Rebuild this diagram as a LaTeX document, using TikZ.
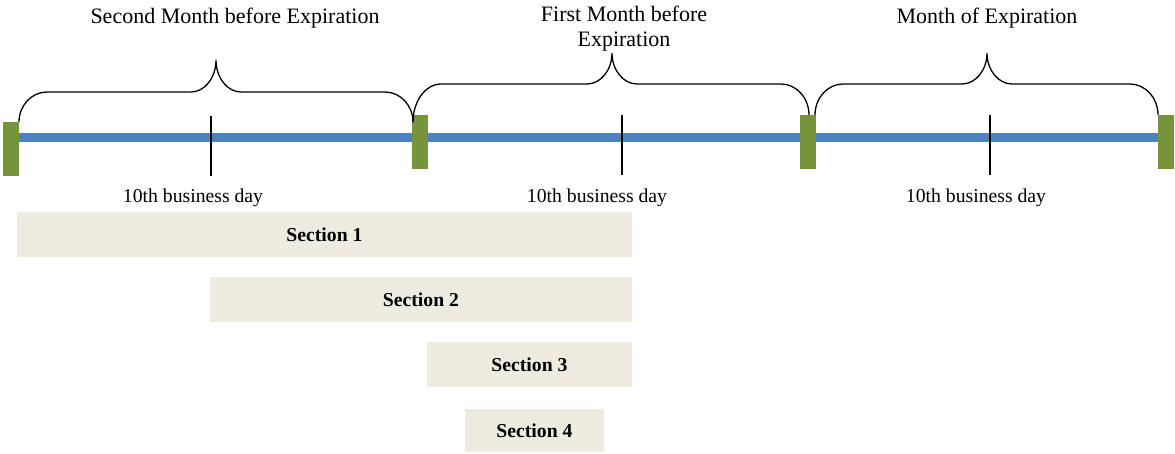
\documentclass[tikz,border=0pt]{standalone}
\usepackage{fontspec}
\setmainfont{Liberation Serif}
\definecolor{tlblue}{HTML}{4F81BD}
\definecolor{tlgreen}{HTML}{77933C}
\definecolor{secbeige}{HTML}{EEECE1}
\newcommand\mybrace[7]{%
 \draw[bracestyle] (#1,#2) .. controls (#1,{#2-0.55*(#2-#6)}) and ({#1+28-0.55*28},#6) .. ({#1+28},#6)
 -- ({#5-25},#6) .. controls ({#5-25+0.55*25},#6) and (#5,{#7+0.55*(#6-#7)}) .. (#5,#7)
 .. controls (#5,{#7+0.55*(#6-#7)}) and ({#5+25-0.55*25},#6) .. ({#5+25},#6)
 -- ({#3-28},#6) .. controls ({#3-28+0.55*28},#6) and (#3,{#4-0.55*(#4-#6)}) .. (#3,#4);}
\tikzset{
 bracestyle/.style={draw=black, line width=1.3pt},
 greenbar/.style={fill=tlgreen, draw=none, inner sep=0pt, minimum width=16pt},
 tickmark/.style={draw=black, line width=2pt},
 toplabel/.style={font=\fontsize{22}{25}\selectfont, inner sep=0pt, align=center},
 daylabel/.style={font=\fontsize{19.7}{22}\selectfont, inner sep=0pt, anchor=base},
 secbox/.style={fill=secbeige, draw=none, inner sep=0pt, font=\fontsize{19.7}{22}\selectfont\bfseries},
}
\begin{document}
\begin{tikzpicture}[x=1pt,y=-1pt]
\useasboundingbox (0,0) rectangle (1175,453);
% timeline
\coordinate (lstart) at (11,137.5);
\coordinate (lend) at (1166,137.5);
\draw[tlblue, line width=8.5pt] (lstart) -- (lend);
% green bars
\node[greenbar, minimum height=54pt] (g1) at (11,149) {};
\node[greenbar, minimum height=54pt] (g2) at (420,142) {};
\node[greenbar, minimum height=54pt] (g3) at (807.5,142) {};
\node[greenbar, minimum height=54pt] (g4) at (1166,142) {};
% ticks
\coordinate (t1a) at (211,116); \coordinate (t1b) at (211,176);
\coordinate (t2a) at (622,115); \coordinate (t2b) at (622,175);
\coordinate (t3a) at (990,115); \coordinate (t3b) at (990,175);
\draw[tickmark] (t1a) -- (t1b);
\draw[tickmark] (t2a) -- (t2b);
\draw[tickmark] (t3a) -- (t3b);
% braces
\mybrace{19}{122}{413}{122}{216}{92}{60}
\mybrace{413}{122}{809}{115}{612}{84}{53}
\mybrace{815}{115}{1158}{115}{987}{84}{53}
% top labels
\node[toplabel, anchor=base] (m1) at (235,23) {Second Month before Expiration};
\node[toplabel, anchor=center] (m2) at (624,28.5) {First Month before\\Expiration};
\node[toplabel, anchor=base] (m3) at (987,23) {Month of Expiration};
% business day labels
\node[daylabel] (d1) at (193,202) {10th business day};
\node[daylabel] (d2) at (597,202) {10th business day};
\node[daylabel] (d3) at (976,202) {10th business day};
% sections
\node[secbox, minimum width=615pt, minimum height=45pt] (s1) at (324.5,234.5) {Section 1};
\node[secbox, minimum width=422pt, minimum height=45pt] (s2) at (421,299.5) {Section 2};
\node[secbox, minimum width=205pt, minimum height=45pt] (s3) at (529.5,364.5) {Section 3};
\node[secbox, minimum width=139pt, minimum height=43pt] (s4) at (534.5,430.5) {Section 4};
\end{tikzpicture}
\end{document}
